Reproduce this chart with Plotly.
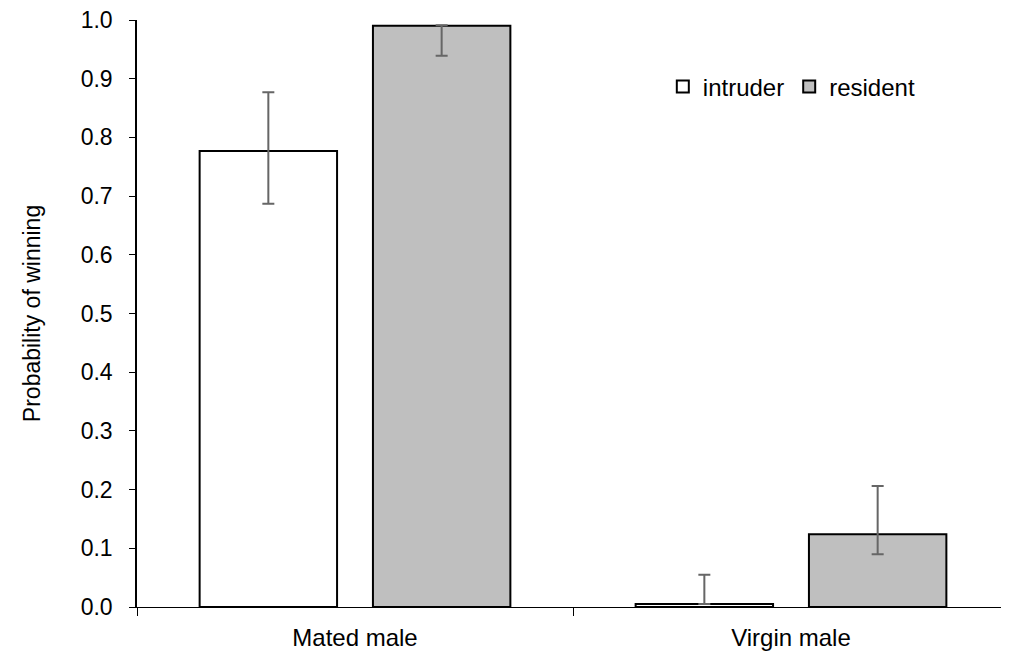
import plotly.graph_objects as go

categories = ["Mated male", "Virgin male"]
intruder = [0.777, 0.005]
intruder_hi = [0.877, 0.055]
intruder_lo = [0.687, 0.005]
resident = [0.990, 0.124]
resident_hi = [0.991, 0.206]
resident_lo = [0.939, 0.090]
yticks = [0.0, 0.1, 0.2, 0.3, 0.4, 0.5, 0.6, 0.7, 0.8, 0.9, 1.0]

def errs(v, hi, lo):
    return [h - a for a, h in zip(v, hi)], [a - l for a, l in zip(v, lo)]

ip, im = errs(intruder, intruder_hi, intruder_lo)
rp, rm = errs(resident, resident_hi, resident_lo)

FONT = "Liberation Sans, Arial, sans-serif"
fig = go.Figure()
fig.add_trace(go.Bar(
    name="intruder", x=categories, y=intruder,
    marker=dict(color="white", line=dict(color="black", width=2)),
    error_y=dict(type="data", array=ip, arrayminus=im, color="#666666", thickness=2, width=6),
))
fig.add_trace(go.Bar(
    name="resident", x=categories, y=resident,
    marker=dict(color="#bfbfbf", line=dict(color="black", width=2)),
    error_y=dict(type="data", array=rp, arrayminus=rm, color="#666666", thickness=2, width=6),
))
fig.update_layout(
    width=1001, height=655,
    margin=dict(l=129, r=0, t=12, b=56),
    paper_bgcolor="white", plot_bgcolor="white",
    barmode="group", bargap=0.205, bargroupgap=0.207,
    font=dict(family=FONT, size=23, color="black"),
    legend=dict(orientation="h", x=0.603, y=0.886, xanchor="left", yanchor="middle",
                font=dict(size=24), itemwidth=30, tracegroupgap=0, bgcolor="rgba(0,0,0,0)"),
    xaxis=dict(showline=True, linecolor="black", linewidth=1, ticks="outside",
               tickson="boundaries", ticklen=8, tickcolor="black", showgrid=False,
               tickfont=dict(size=24), ticklabelstandoff=9),
    yaxis=dict(range=[0, 1.0], tickvals=yticks, tickformat=".1f", showline=True,
               linecolor="black", linewidth=1.5, ticks="outside", ticklen=6,
               tickcolor="black", showgrid=False, zeroline=False,
               ticklabelstandoff=12, ticklabeloverflow="allow",
               title=dict(text="Probability of winning", font=dict(size=23), standoff=34),
               tickfont=dict(size=23)),
)
fig.write_html("out.html")
